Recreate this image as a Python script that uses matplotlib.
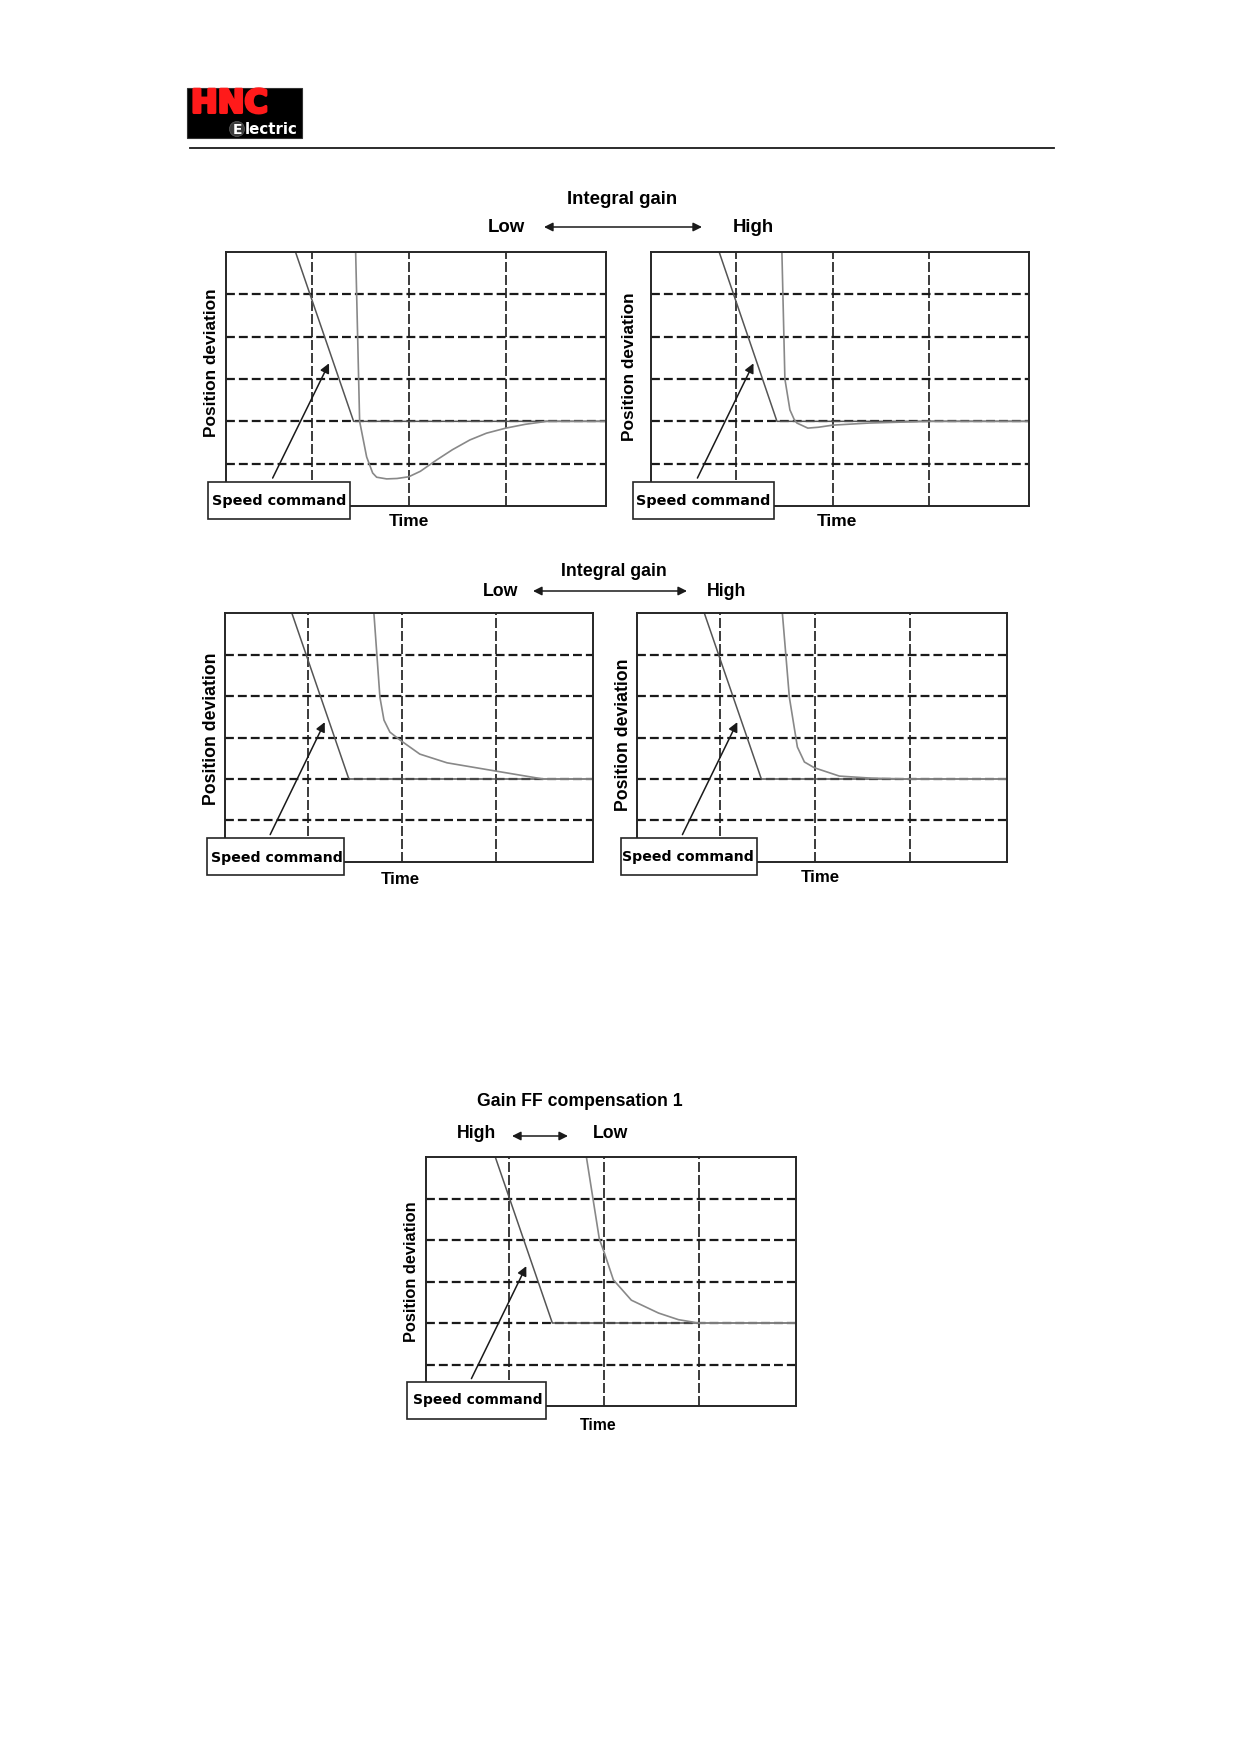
import numpy as np
import matplotlib.pyplot as plt
import matplotlib.patheffects as pe
from matplotlib.patches import Rectangle, Circle

plt.rcParams['font.family'] = ['Liberation Sans', 'DejaVu Sans']

W, H = 1239, 1752

# curves: time in grid divisions, deviation in grid rows (zero row = 2)
cmd1_t = [0.835, 1.433, 4.1]
cmd1_y = [6.0, 2.0, 2.0]
resp1_t = [1.454, 1.495, 1.567, 1.629, 1.67, 1.773, 1.88, 2.0, 2.12, 2.289, 2.45, 2.629, 2.8, 3.0, 3.2, 3.42, 4.1]
resp1_y = [6.0, 2.0, 1.16, 0.78, 0.68, 0.64, 0.65, 0.69, 0.82, 1.09, 1.33, 1.56, 1.72, 1.84, 1.93, 2.0, 2.0]

cmd2_t = [0.825, 1.423, 4.1]
cmd2_y = [6.0, 2.0, 2.0]
resp2_t = [1.474, 1.505, 1.557, 1.60, 1.629, 1.742, 1.85, 2.0, 2.38, 3.0, 4.1]
resp2_y = [6.0, 3.0, 2.27, 2.05, 1.96, 1.84, 1.86, 1.91, 1.96, 2.0, 2.0]

cmd3_t = [0.83, 1.436, 4.1]
cmd3_y = [6.0, 2.0, 2.0]
resp3_t = [1.702, 1.766, 1.809, 1.872, 1.979, 2.19, 2.479, 3.0, 3.5, 4.1]
resp3_y = [6.0, 3.97, 3.42, 3.13, 2.94, 2.6, 2.39, 2.19, 2.0, 2.0]

cmd4_t = [0.831, 1.434, 4.1]
cmd4_y = [6.0, 2.0, 2.0]
resp4_t = [1.656, 1.730, 1.815, 1.889, 1.995, 2.259, 2.6, 3.0, 4.1]
resp4_y = [6.0, 3.97, 2.77, 2.41, 2.27, 2.07, 2.02, 2.0, 2.0]

cmd5_t = [0.852, 1.455, 4.1]
cmd5_y = [6.0, 2.0, 2.0]
resp5_t = [1.815, 1.952, 2.005, 2.10, 2.29, 2.577, 2.788, 3.0, 4.1]
resp5_y = [6.0, 4.02, 3.69, 3.04, 2.55, 2.24, 2.08, 2.0, 2.0]

v_grid = [1, 2, 3]
h_grid = [1, 2, 3, 4, 5]

fig = plt.figure(figsize=(W / 100, H / 100), dpi=100)


def px_axes(l, t, r, b):
    return fig.add_axes([l / W, 1 - b / H, (r - l) / W, (b - t) / H])


# panel frames in pixels + label positions / sizes
panels = [
    dict(rect=(226, 252, 606, 506), cmd=(cmd1_t, cmd1_y), resp=(resp1_t, resp1_y),
         pd=(212, 363, 12.4), tm=(409, 522, 12.5), box=(208, 482, 350, 519), sc=(279, 501, 10.4)),
    dict(rect=(651, 252, 1029, 506), cmd=(cmd2_t, cmd2_y), resp=(resp2_t, resp2_y),
         pd=(630, 367, 12.4), tm=(837, 522, 12.5), box=(633, 482, 774, 519), sc=(703, 501, 10.4)),
    dict(rect=(225, 613, 593, 862), cmd=(cmd3_t, cmd3_y), resp=(resp3_t, resp3_y),
         pd=(212, 729, 12.7), tm=(400, 880, 12.2), box=(207, 838, 344, 875), sc=(277, 858, 10.2)),
    dict(rect=(637, 613, 1007, 862), cmd=(cmd4_t, cmd4_y), resp=(resp4_t, resp4_y),
         pd=(624, 735, 12.7), tm=(820, 878, 12.2), box=(621, 838, 757, 875), sc=(688, 857, 10.2)),
    dict(rect=(426, 1157, 796, 1406), cmd=(cmd5_t, cmd5_y), resp=(resp5_t, resp5_y),
         pd=(411, 1272, 11.8), tm=(598, 1425, 11.4), box=(407, 1382, 546, 1419), sc=(478, 1400, 10.0)),
]

for p in panels:
    ax = px_axes(*p['rect'])
    for y in h_grid:
        ax.axhline(y, color='#1a1a1a', lw=1.6, ls=(0, (4, 1.8)), zorder=1)
    for x in v_grid:
        ax.axvline(x, color='#1a1a1a', lw=1.2, ls=(0, (6, 1.8)), zorder=1)
    ax.plot(*p['cmd'], color='#555555', lw=1.1, zorder=2)
    ax.plot(*p['resp'], color='#888888', lw=1.2, zorder=2)
    ax.annotate('', xy=(1.18, 3.37), xytext=(0.6, 0.66), annotation_clip=False,
                arrowprops=dict(arrowstyle='-|>', color='#1a1a1a', lw=1.1,
                                mutation_scale=14, shrinkA=0, shrinkB=0))
    ax.set_xlim(0.12, 4.03)
    ax.set_ylim(0, 6)
    ax.set_xticks([])
    ax.set_yticks([])
    for s in ax.spines.values():
        s.set_color('#262626')
        s.set_linewidth(1.4)

# overlay in pixel coordinates for page furniture and labels
ov = fig.add_axes([0, 0, 1, 1], zorder=10)
ov.set_xlim(0, W)
ov.set_ylim(H, 0)
ov.axis('off')

for p in panels:
    x, y, fs = p['pd']
    ov.text(x, y, 'Position deviation', rotation=90, ha='center', va='center',
            fontsize=fs, fontweight='bold')
    x, y, fs = p['tm']
    ov.text(x, y, 'Time', ha='center', va='center', fontsize=fs, fontweight='bold')
    l, t, r, b = p['box']
    ov.add_patch(Rectangle((l, t), r - l, b - t, facecolor='white', edgecolor='#262626', lw=1.2))
    x, y, fs = p['sc']
    ov.text(x, y, 'Speed command', ha='center', va='center', fontsize=fs,
            fontweight='bold', family='DejaVu Sans')


# headers
def header(title, ty, left, lx, right, rx, ly, a0, a1, ay, fs):
    ov.text(ty[0], ty[1], title, ha='center', va='center', fontsize=fs, fontweight='bold')
    ov.text(lx, ly, left, ha='center', va='center', fontsize=fs, fontweight='bold')
    ov.text(rx, ly, right, ha='center', va='center', fontsize=fs, fontweight='bold')
    ov.annotate('', xy=(a1, ay), xytext=(a0, ay),
                arrowprops=dict(arrowstyle='<|-|>', color='#1a1a1a', lw=1.1,
                                mutation_scale=13, shrinkA=0, shrinkB=0))


header('Integral gain', (622, 200), 'Low', 506, 'High', 753, 227, 544, 702, 227, 13.4)
header('Integral gain', (614, 572), 'Low', 501, 'High', 727, 591, 533, 687, 591, 12.8)
header('Gain FF compensation 1', (580, 1101), 'High', 476, 'Low', 611, 1134, 512, 568, 1136, 12.7)

# logo and rule
ov.add_patch(Rectangle((187, 88), 115, 50, facecolor='black', edgecolor='#333333', lw=0.8))
ov.text(191, 104, 'HNC', ha='left', va='center', fontsize=23, fontweight='bold',
        color='#ff1a1a', family='DejaVu Sans',
        path_effects=[pe.withStroke(linewidth=2.2, foreground='#ff1a1a')])
ov.add_patch(Circle((237, 129), 7.5, facecolor='#3a3a3a', edgecolor='#555555', lw=0.6))
ov.text(237, 129.5, 'E', ha='center', va='center', fontsize=10, fontweight='bold',
        color='white', family='DejaVu Sans')
ov.text(245, 129.5, 'lectric', ha='left', va='center', fontsize=10.8, fontweight='bold',
        color='white', family='DejaVu Sans')
ov.plot([190, 1054], [148, 148], color='#1a1a1a', lw=1.3)

fig.savefig('out.png', dpi=100)
